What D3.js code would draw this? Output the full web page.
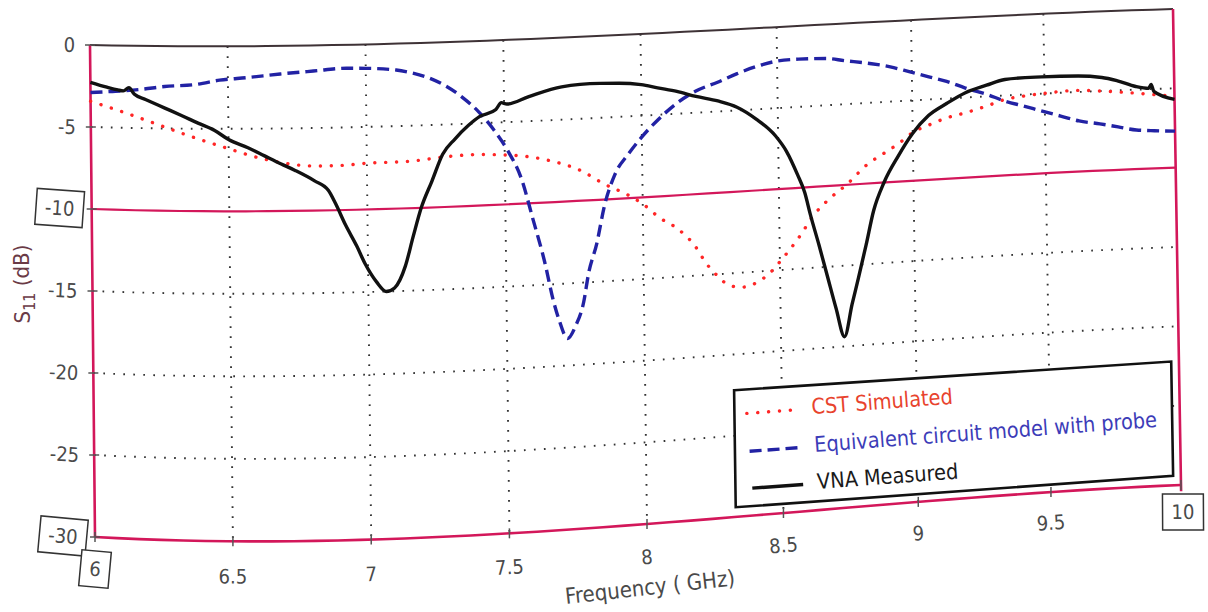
<!DOCTYPE html>
<html lang="en">
<head>
  <meta charset="utf-8" />
  <title>S11 - CST vs circuit model vs VNA</title>
  <script src="https://cdn.jsdelivr.net/npm/d3@7"></script>
  <style>
body{
  margin: 0;
  background: #fff;
}
#chart{
  display: block;
  font-family: "DejaVu Sans Condensed", "DejaVu Sans", sans-serif;
}
  </style>
</head>
<body>
  <svg id="chart" width="1208" height="612"></svg>
  <script>
  // values
  const cstFreq = [6.00,6.11,6.25,6.36,6.48,6.63,6.81,6.90,7.00,7.17,7.29,7.41,7.51,7.65,7.78,7.86,7.95,8.00,8.06,8.13,8.19,8.23,8.27,8.31,8.355,8.41,8.465,8.51,8.57,8.63,8.69,8.75,8.83,8.89,8.95,9.00,9.06,9.13,9.20,9.28,9.35,9.42,9.49,9.63,9.78,9.92,10.00];
  const cstS11 = [-3.43,-4.00,-4.80,-5.45,-6.10,-6.85,-7.30,-7.30,-7.20,-7.14,-6.95,-6.90,-7.00,-7.40,-8.20,-9.05,-9.84,-10.40,-11.30,-12.10,-13.20,-14.30,-15.10,-15.70,-15.90,-15.70,-15.10,-14.30,-13.10,-11.70,-10.75,-10.00,-8.80,-8.20,-7.60,-7.00,-6.60,-6.20,-5.95,-5.60,-5.25,-5.10,-5.00,-4.90,-5.10,-5.35,-5.50];

  const circuitFreq = [6.00,6.08,6.18,6.27,6.39,6.47,6.57,6.69,6.81,6.93,7.00,7.11,7.17,7.23,7.29,7.35,7.41,7.46,7.51,7.56,7.60,7.64,7.67,7.69,7.72,7.75,7.78,7.80,7.83,7.86,7.90,7.95,8.00,8.06,8.13,8.20,8.28,8.35,8.42,8.49,8.58,8.68,8.75,8.85,8.92,8.99,9.06,9.13,9.20,9.28,9.35,9.42,9.49,9.56,9.63,9.71,9.78,9.85,9.92,10.00];
  const circuitS11 = [-2.90,-2.80,-2.65,-2.45,-2.30,-2.05,-1.90,-1.70,-1.55,-1.42,-1.45,-1.60,-1.82,-2.15,-2.67,-3.40,-4.35,-5.40,-6.70,-8.50,-11.00,-13.60,-16.00,-17.20,-18.35,-17.60,-16.20,-14.40,-12.70,-10.40,-8.50,-7.30,-6.30,-5.30,-4.35,-3.67,-3.20,-2.75,-2.38,-2.12,-2.05,-2.10,-2.30,-2.58,-2.84,-3.20,-3.57,-3.93,-4.41,-4.87,-5.36,-5.72,-6.10,-6.46,-6.82,-7.06,-7.30,-7.54,-7.63,-7.70];

  const vnaFreq = [6.00,6.06,6.10,6.12,6.14,6.16,6.20,6.27,6.33,6.39,6.45,6.50,6.57,6.63,6.69,6.74,6.81,6.86,6.885,6.92,6.96,6.99,7.03,7.065,7.095,7.135,7.165,7.195,7.235,7.275,7.32,7.37,7.41,7.47,7.49,7.51,7.59,7.71,7.85,7.92,8.00,8.06,8.13,8.20,8.28,8.35,8.42,8.49,8.53,8.57,8.595,8.615,8.645,8.675,8.705,8.735,8.765,8.79,8.82,8.85,8.89,8.945,9.00,9.06,9.13,9.20,9.28,9.35,9.49,9.63,9.72,9.78,9.85,9.90,9.91,9.92,10.00];
  const vnaS11 = [-2.28,-2.55,-2.70,-2.75,-2.55,-2.95,-3.25,-3.76,-4.20,-4.66,-5.10,-5.65,-6.15,-6.65,-7.15,-7.55,-8.20,-8.80,-9.60,-10.90,-12.20,-13.30,-14.40,-15.00,-14.80,-13.50,-11.70,-10.00,-8.40,-6.80,-5.90,-5.10,-4.60,-4.20,-3.80,-3.90,-3.50,-3.00,-2.90,-2.95,-3.10,-3.35,-3.63,-4.00,-4.35,-4.80,-5.60,-6.70,-7.70,-9.20,-10.30,-11.70,-13.60,-15.60,-17.60,-19.40,-17.40,-15.80,-13.80,-11.70,-10.00,-8.40,-7.05,-6.00,-5.30,-4.70,-4.30,-4.00,-3.95,-4.00,-4.15,-4.40,-4.80,-4.95,-4.70,-5.15,-5.70];

  const xTicks = [6, 6.5, 7, 7.5, 8, 8.5, 9, 9.5, 10];
  const xTickLabels = ['6', '6.5', '7', '7.5', '8', '8.5', '9', '9.5', '10'];
  const yTicks = [0, -5, -10, -15, -20, -25, -30];
  const yTickLabels = ['0', '-5', '-10', '-15', '-20', '-25', '-30'];
  const boxedX = [6, 10];
  const boxedY = [-10, -30];
  const markerLevel = -10;

  const legendNames = ['CST Simulated', 'Equivalent circuit model with probe', 'VNA Measured'];

  // the print was photographed at an angle: where the plot frame corners landed,
  // plus how much the page bulges between them
  const frame = {tl: [90, 45], tr: [1173, 9], bl: [95, 537], br: [1181, 485],
                 bowX: 9, skewX: -0.6, bowTop: 7, bowBottom: 13, skewY: 1.2};

  var x = d3.scaleLinear().domain([6, 10]).range([0, 1]);
  var y = d3.scaleLinear().domain([0, -30]).range([0, 1]);

  function warp(u, v){
    var b = 4 * u * (1 - u);
    var bx = b * (1 + frame.skewX * (1 - 2 * u));
    var by = b * (1 + frame.skewY * (1 - 2 * u));
    var px = (frame.tl[0] * (1 - u) + frame.tr[0] * u) * (1 - v) + (frame.bl[0] * (1 - u) + frame.br[0] * u) * v + frame.bowX * bx;
    var py = (frame.tl[1] * (1 - u) + frame.tr[1] * u) * (1 - v) + (frame.bl[1] * (1 - u) + frame.br[1] * u) * v + by * (frame.bowTop * (1 - v) + frame.bowBottom * v);
    return [px, py];
  }
  function tilt(u, v){
    var a = warp(u - 0.002, v), b = warp(u + 0.002, v);
    return Math.atan2(b[1] - a[1], b[0] - a[0]) * 180 / Math.PI;
  }
  var pt = (f, s) => warp(x(f), y(s));
  var seg = (f0, s0, f1, s1) => d3.range(0, 1.0001, 0.02).map(t => pt(f0 + (f1 - f0) * t, s0 + (s1 - s0) * t));

  var svg = d3.select('#chart');
  var line = d3.line();
  var curve = d3.line().curve(d3.curveMonotoneX);

  var axisColor = '#d3175a', textColor = '#4a4a4a';

  // dotted grid
  var grid = svg.append('g')
      .attr('fill', 'none')
      .attr('stroke', '#333')
      .attr('stroke-width', 1.9)
      .attr('stroke-dasharray', '1.7 8.3');
  xTicks.slice(1, -1).forEach(f => grid.append('path').attr('d', line(seg(f, 0, f, -30))));
  yTicks.slice(1, -1).filter(s => s != markerLevel).forEach(s => grid.append('path').attr('d', line(seg(6, s, 10, s))));

  // frame
  svg.append('path').attr('d', line(seg(6, 0, 10, 0)))
      .attr('fill', 'none').attr('stroke', '#3e3236').attr('stroke-width', 2);
  svg.append('path').attr('d', line(seg(6, markerLevel, 10, markerLevel)))
      .attr('fill', 'none').attr('stroke', axisColor).attr('stroke-width', 2.2);
  [[6, 0, 6, -30], [6, -30, 10, -30], [10, 0, 10, -30.4]].forEach(e => {
    svg.append('path').attr('d', line(seg(e[0], e[1], e[2], e[3])))
        .attr('fill', 'none').attr('stroke', axisColor).attr('stroke-width', 2.6);
  });

  // tick marks
  var ticks = svg.append('g').attr('stroke', '#555').attr('stroke-width', 1.5);
  xTicks.forEach(f => {
    var p = pt(f, -30);
    ticks.append('line').attr('x1', p[0]).attr('x2', p[0]).attr('y1', p[1] - 5).attr('y2', p[1] + 5);
  });
  yTicks.forEach(s => {
    var p = pt(6, s);
    ticks.append('line').attr('x1', p[0] - 5).attr('x2', p[0] + 5).attr('y1', p[1]).attr('y2', p[1]);
  });

  // series
  var series = [
    {name: legendNames[0], freq: cstFreq, s11: cstS11, color: '#ff2626', width: 3.4, dash: '0.1 10.8', cap: 'round', text: '#e8432d'},
    {name: legendNames[1], freq: circuitFreq, s11: circuitS11, color: '#2222a4', width: 3.4, dash: '12 6', cap: 'butt', text: '#3c3cb8'},
    {name: legendNames[2], freq: vnaFreq, s11: vnaS11, color: '#111111', width: 3.4, dash: null, cap: 'butt', text: '#1a1a1a'}
  ];
  series.forEach(d => {
    svg.append('path')
        .attr('d', curve(d.freq.map((f, i) => pt(f, d.s11[i]))))
        .attr('fill', 'none')
        .attr('stroke', d.color)
        .attr('stroke-width', d.width)
        .attr('stroke-linecap', d.cap)
        .attr('stroke-linejoin', 'round')
        .attr('stroke-dasharray', d.dash);
  });

  // legend, sitting in the lower right corner of the plot
  var lg = {f0: 8.325, f1: 9.97, s0: -22.2, s1: -29.4};
  var corners = [pt(lg.f0, lg.s0), pt(lg.f1, lg.s0), pt(lg.f1, lg.s1), pt(lg.f0, lg.s1)];
  svg.append('path').attr('d', line(corners) + 'Z')
      .attr('fill', '#fff').attr('stroke', '#111').attr('stroke-width', 2.6);
  var lgAngle = tilt(x((lg.f0 + lg.f1) / 2), y((lg.s0 + lg.s1) / 2));
  var legend = svg.append('g')
      .attr('transform', `translate(${corners[0][0]},${corners[0][1]}) rotate(${lgAngle})`)
      .attr('font-size', 21.5);
  var rows = [22, 60, 97];
  series.forEach((d, i) => {
    legend.append('line')
        .attr('x1', 11).attr('x2', 62).attr('y1', rows[i] + 2).attr('y2', rows[i] + 2)
        .attr('stroke', d.color).attr('stroke-width', d.width)
        .attr('stroke-linecap', d.cap).attr('stroke-dasharray', d.dash);
    legend.append('text')
        .attr('x', 76).attr('y', rows[i]).attr('dy', '0.35em')
        .attr('fill', d.text)
        .text(d.name);
  });

  // tick labels
  var labels = svg.append('g').attr('font-size', 20).attr('fill', textColor);

  function boxed(cx, cy, ang, txt){
    var g = labels.append('g').attr('transform', `translate(${cx},${cy}) rotate(${ang})`);
    var t = g.append('text').attr('text-anchor', 'middle').attr('dy', '0.35em').text(txt);
    var bb = t.node().getBBox();
    g.insert('rect', 'text')
        .attr('x', bb.x - 9).attr('y', bb.y - 6)
        .attr('width', bb.width + 18).attr('height', bb.height + 12)
        .attr('fill', '#fff').attr('stroke', '#333').attr('stroke-width', 1.5);
  }

  yTicks.forEach((s, i) => {
    var p = pt(6, s);
    var ang = tilt(0, y(s));
    if(boxedY.includes(s)){
      boxed(p[0] - 32, p[1] - 1, ang + 2, yTickLabels[i]);
    } else {
      labels.append('text')
          .attr('transform', `translate(${p[0] - 15},${p[1]}) rotate(${ang})`)
          .attr('text-anchor', 'end').attr('dy', '0.35em')
          .text(yTickLabels[i]);
    }
  });

  xTicks.forEach((f, i) => {
    var p = pt(f, -30);
    var ang = tilt(x(f), 1);
    if(boxedX.includes(f)){
      boxed(p[0] + (f == 10 ? 2 : 0), p[1] + (f == 10 ? 27 : 32), ang + 2, xTickLabels[i]);
    } else {
      labels.append('text')
          .attr('transform', `translate(${p[0]},${p[1] + 36 - 6 * x(f)}) rotate(${ang})`)
          .attr('text-anchor', 'middle').attr('dy', '0.35em')
          .text(xTickLabels[i]);
    }
  });

  // axis titles
  var xt = pt(8, -30);
  svg.append('text')
      .attr('transform', `translate(${xt[0] + 3},${xt[1] + 63}) rotate(${tilt(0.5, 1) - 2})`)
      .attr('text-anchor', 'middle').attr('dy', '0.35em')
      .attr('font-size', 22).attr('fill', textColor)
      .text('Frequency ( GHz)');

  var yt = svg.append('text')
      .attr('transform', 'translate(22,284) rotate(-90)')
      .attr('text-anchor', 'middle').attr('dy', '0.35em')
      .attr('font-size', 22).attr('fill', '#6a3a46');
  yt.append('tspan').text('S');
  yt.append('tspan').attr('dy', '0.35em').attr('font-size', 16).text('11');
  yt.append('tspan').attr('dy', '-0.3em').text(' (dB)');
  </script>
</body>
</html>
